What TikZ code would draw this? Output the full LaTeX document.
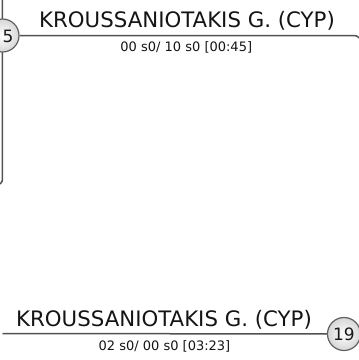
\documentclass[tikz,border=0pt]{standalone}
\usepackage{fontspec}
\setmainfont{DejaVu Sans}
\pgfdeclarelayer{bg}
\pgfsetlayers{bg,main}
\begin{document}
\begin{tikzpicture}[x=1pt,y=-1pt,
  conn/.style={draw=black!68, line width=1.5pt},
  seedbox/.style={circle, draw=black!62, line width=1.2pt, minimum size=33pt, inner sep=0pt,
    inner color=white, outer color=black!16, font=\fontsize{17}{19}\selectfont, text=black!90},
  playername/.style={anchor=base, inner sep=0pt, font=\fontsize{21.3}{24}\selectfont, text=black!92},
  scoretext/.style={anchor=base, inner sep=0pt, font=\fontsize{13}{15}\selectfont, text=black!92}]
\useasboundingbox (0,0) rectangle (359,360);
% top match
\node[seedbox] (s5) at (2.5,35.5) {};
\node[inner sep=0pt, font=\fontsize{17}{19}\selectfont, text=black!90] (n5) at (8,36.2) {5};
\coordinate (vtop) at (2.5,-5);
\coordinate (vbot) at (-10,185);
\coordinate (hr) at (361,90);
\node[playername] (t1) at (187,27.3) {KROUSSANIOTAKIS G. (CYP)};
\node[scoretext] (r1) at (186.3,51.7) {00 s0/ 10 s0 [00:45]};
% bottom match
\node[seedbox] (s19) at (344,334) {19};
\coordinate (bl) at (2.5,333.5);
\node[playername] (t2) at (164,326) {KROUSSANIOTAKIS G. (CYP)};
\node[scoretext] (r2) at (164.5,350) {02 s0/ 00 s0 [03:23]};
\begin{pgfonlayer}{bg}
\draw[conn, rounded corners=6pt] (vtop) |- (vbot);
\draw[conn, rounded corners=7pt] (s5) -| (hr);
\draw[conn] (bl) -- (s19);
\end{pgfonlayer}
\end{tikzpicture}
\end{document}
